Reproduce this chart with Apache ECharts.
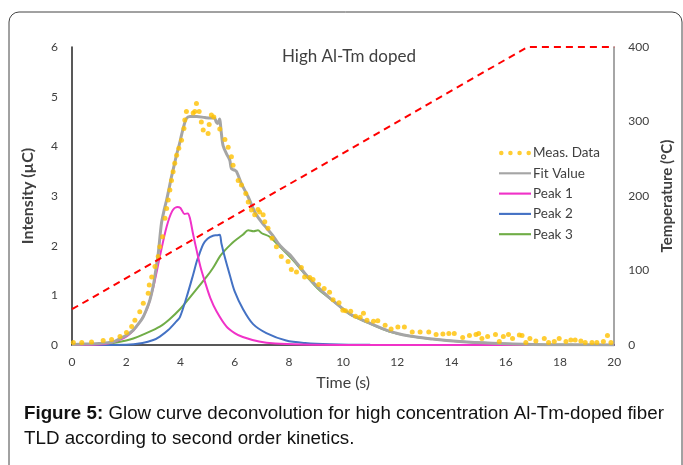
<!DOCTYPE html>
<html><head><meta charset="utf-8">
<script src="https://cdn.jsdelivr.net/npm/echarts@6/dist/echarts.min.js"></script>
<style>html,body{margin:0;padding:0;background:#fff}#c{width:683px;height:465px}</style>
</head><body><div id="c"></div>
<script>
// ---- data ----
var xTicks = [0,2,4,6,8,10,12,14,16,18,20];
var measT = [0.05,0.36,0.72,1.15,1.46,1.77,2.01,2.2,2.32,2.5,2.63,2.81,2.85,2.94,3.06,3.18,3.24,3.34,3.43,3.49,3.55,3.61,3.67,3.73,3.79,3.86,3.94,4.04,4.13,4.16,4.22,4.47,4.53,4.59,4.69,4.77,4.84,5.02,5.06,5.14,5.23,5.45,5.64,5.76,5.88,5.94,6.13,6.25,6.41,6.5,6.62,6.74,6.86,6.92,7.05,7.11,7.23,7.38,7.54,7.72,7.97,8.09,8.28,8.46,8.58,8.77,8.89,9.1,9.3,9.5,9.63,9.85,9.99,10.09,10.28,10.46,10.63,10.75,10.88,11.12,11.28,11.55,11.77,12.02,12.26,12.55,12.84,13.16,13.43,13.68,13.9,14.1,14.41,14.66,14.9,15.0,15.12,15.33,15.62,15.76,15.91,16.1,16.25,16.5,16.6,16.74,16.89,17.11,17.42,17.58,17.79,17.97,18.22,18.4,18.56,18.77,18.93,19.18,19.36,19.6,19.75,19.88];
var measI = [0.05,0.05,0.06,0.09,0.11,0.17,0.25,0.37,0.5,0.67,0.84,1.04,1.21,1.37,1.58,1.78,1.98,2.18,2.55,2.75,2.92,3.12,3.31,3.49,3.66,3.82,3.96,4.12,4.36,4.53,4.7,4.67,4.7,4.86,4.7,4.49,4.33,4.26,4.44,4.63,4.59,4.35,4.14,3.98,3.79,3.62,3.31,3.22,3.05,2.88,2.72,2.62,2.73,2.68,2.62,2.48,2.35,2.15,1.98,1.78,1.68,1.52,1.47,1.56,1.37,1.36,1.32,1.22,1.14,1.06,0.91,0.85,0.7,0.69,0.68,0.58,0.56,0.64,0.5,0.48,0.49,0.4,0.32,0.36,0.36,0.26,0.26,0.26,0.21,0.22,0.23,0.23,0.15,0.19,0.21,0.23,0.13,0.17,0.21,0.07,0.17,0.21,0.13,0.2,0.19,0.05,0.13,0.08,0.13,0.05,0.07,0.13,0.07,0.1,0.1,0.08,0.05,0.05,0.05,0.07,0.19,0.05];
var fitT = [0,0.5,1.0,1.5,1.77,2.0,2.26,2.5,2.63,2.75,2.87,3.0,3.06,3.18,3.3,3.4,3.49,3.58,3.67,3.77,3.86,3.95,4.05,4.13,4.22,4.35,4.6,4.9,5.1,5.25,5.33,5.38,5.44,5.51,5.57,5.7,5.82,5.88,6.0,6.07,6.25,6.5,6.68,6.8,7.0,7.2,7.41,7.6,7.8,8.03,8.3,8.64,9.0,9.5,10.24,10.9,11.7,12.45,13.3,14.3,15.5,17,18.5,20];
var fitI = [0.01,0.02,0.03,0.06,0.13,0.19,0.3,0.46,0.57,0.72,0.9,1.2,1.4,1.84,2.45,2.72,2.92,3.15,3.39,3.62,3.84,4.02,4.25,4.42,4.56,4.6,4.6,4.58,4.57,4.57,4.48,4.46,4.55,4.26,4.02,3.85,3.72,3.55,3.52,3.49,3.25,2.98,2.75,2.62,2.47,2.34,2.2,2.05,1.93,1.82,1.64,1.41,1.2,0.95,0.63,0.46,0.28,0.18,0.12,0.07,0.035,0.01,0.004,0.002];
var p1T = [0,1.0,1.4,2.0,2.38,2.75,3.0,3.24,3.49,3.7,3.88,4.0,4.15,4.27,4.35,4.46,4.6,4.75,4.9,5.1,5.33,5.7,6.0,6.3,6.9,7.5,8.5,10,20];
var p1I = [0,0.01,0.04,0.17,0.37,0.7,1.17,1.78,2.38,2.7,2.78,2.76,2.64,2.65,2.55,2.25,1.9,1.55,1.28,0.95,0.68,0.37,0.24,0.16,0.07,0.03,0.01,0.002,0];
var p2T = [0,2.0,2.6,3.0,3.24,3.55,3.86,3.98,4.22,4.46,4.6,4.71,4.84,5.0,5.2,5.35,5.45,5.51,5.64,5.82,6.0,6.31,6.68,7.17,7.9,8.6,9.5,11,20];
var p2I = [0,0.005,0.04,0.1,0.17,0.3,0.48,0.56,0.95,1.4,1.68,1.85,2.03,2.14,2.2,2.21,2.22,2.05,1.76,1.41,1.08,0.72,0.42,0.24,0.09,0.04,0.015,0.004,0];
var p3T = [0,1.0,1.4,2.0,2.26,2.7,3.24,3.6,3.98,4.47,4.96,5.2,5.45,5.6,5.7,5.9,6.1,6.3,6.5,6.7,6.86,7.0,7.29,7.66,8.15,8.4,8.64,9.13,9.6,10.24,10.9,11.7,12.45,13.3,14.3,15.5,17,18.5,20];
var p3I = [0,0.01,0.03,0.09,0.13,0.23,0.37,0.52,0.72,1.04,1.37,1.55,1.78,1.88,1.94,2.05,2.14,2.22,2.31,2.29,2.31,2.25,2.18,1.98,1.71,1.55,1.39,1.1,0.9,0.62,0.45,0.27,0.18,0.12,0.07,0.035,0.01,0.004,0.001];
var tempT = [0,16.8,20];
var tempC = [48,400,400];

function zip(a,b){return a.map(function(v,i){return [v,b[i]];});}

var FONT = 'Lato';
var LINE_ICON = 'path://M0,0L30,0L30,2L0,2Z';
var chart = echarts.init(document.getElementById('c'));
chart.setOption({
  animation:false,
  backgroundColor:'#fff',
  title:[{text:'High Al-Tm doped',left:344,textAlign:'center',top:43,textStyle:{fontFamily:FONT,fontSize:17,fontWeight:'normal',color:'#404040'}}],
  graphic:[
    {type:'rect',shape:{x:9,y:12,width:673,height:470,r:10},style:{fill:'none',stroke:'#444',lineWidth:1}},
    {type:'text',left:24,top:404,style:{rich:{b:{fontWeight:'bold',fontFamily:'Liberation Sans',fontSize:18.75,fill:'#111'},n:{fontFamily:'Liberation Sans',fontSize:18.75,fill:'#111'}},text:'{b|Figure 5:}{n| Glow curve deconvolution for high concentration Al-Tm-doped fiber}'}},
    {type:'text',left:24,top:429,style:{fontFamily:'Liberation Sans',fontSize:18.75,fill:'#111',text:'TLD according to second order kinetics.'}}
  ],
  grid:{left:72,right:68,top:47,bottom:120},
  legend:{orient:'vertical',left:494,top:141,itemWidth:32,itemHeight:10,itemGap:6.3,
    textStyle:{fontFamily:FONT,fontSize:13.5,color:'#404040',padding:[0,0,0,-3]},
    data:[
      {name:'Meas. Data',icon:'path://M0,1a1,1 0 1,0 2,0a1,1 0 1,0 -2,0zM4,1a1,1 0 1,0 2,0a1,1 0 1,0 -2,0zM8,1a1,1 0 1,0 2,0a1,1 0 1,0 -2,0zM12,1a1,1 0 1,0 2,0a1,1 0 1,0 -2,0z'},
      {name:'Fit Value',icon:LINE_ICON},{name:'Peak 1',icon:LINE_ICON},{name:'Peak 2',icon:LINE_ICON},{name:'Peak 3',icon:LINE_ICON}]},
  xAxis:{type:'value',min:0,max:20,interval:2,name:'Time (s)',nameLocation:'middle',nameGap:30,
    nameTextStyle:{fontFamily:FONT,fontSize:16,color:'#404040'},
    axisLine:{lineStyle:{color:'#222',width:1.5}},axisTick:{show:false},splitLine:{show:false},
    axisLabel:{fontFamily:FONT,fontSize:12,color:'#404040',margin:11,formatter:function(v){return xTicks.indexOf(v)>=0?String(v):'';}}},
  yAxis:[
    {type:'value',min:0,max:6,interval:1,name:'Intensity (µC)',nameLocation:'middle',nameGap:36,
     nameTextStyle:{fontFamily:FONT,fontSize:16,fontWeight:'bold',color:'#404040'},
     axisLine:{show:true,lineStyle:{color:'#222',width:1.5}},axisTick:{show:false},splitLine:{show:false},
     axisLabel:{fontFamily:FONT,fontSize:12,color:'#404040',margin:14}},
    {type:'value',min:0,max:400,interval:100,position:'right',name:'Temperature (°C)',nameLocation:'middle',nameGap:38,
     nameRotate:90,
     nameTextStyle:{fontFamily:FONT,fontSize:15,fontWeight:'bold',color:'#404040'},
     axisLine:{show:true,lineStyle:{color:'#888',width:1.5}},axisTick:{show:false},splitLine:{show:false},
     axisLabel:{fontFamily:FONT,fontSize:12,color:'#404040',margin:14}}
  ],
  series:[
    {name:'Peak 3',type:'line',data:zip(p3T,p3I),symbol:'none',smooth:0.3,lineStyle:{color:'#70AD47',width:2},itemStyle:{color:'#70AD47'},z:2},
    {name:'Peak 2',type:'line',data:zip(p2T,p2I),symbol:'none',smooth:0.3,lineStyle:{color:'#4472C4',width:2},itemStyle:{color:'#4472C4'},z:2},
    {name:'Peak 1',type:'line',data:zip(p1T,p1I),symbol:'none',smooth:0.3,lineStyle:{color:'#F032C8',width:2},itemStyle:{color:'#F032C8'},z:2},
    {name:'Fit Value',type:'line',data:zip(fitT,fitI),symbol:'none',smooth:0.3,lineStyle:{color:'#A5A5A5',width:3},itemStyle:{color:'#A5A5A5'},z:3},
    {name:'Meas. Data',type:'scatter',data:zip(measT,measI),symbol:'circle',symbolSize:5,itemStyle:{color:'#FFC000'},z:4},
    {name:'Temperature',type:'line',yAxisIndex:1,data:zip(tempT,tempC),symbol:'none',lineStyle:{color:'#FF0000',width:2,type:[7,5]},z:5}
  ]
});
</script></body></html>
